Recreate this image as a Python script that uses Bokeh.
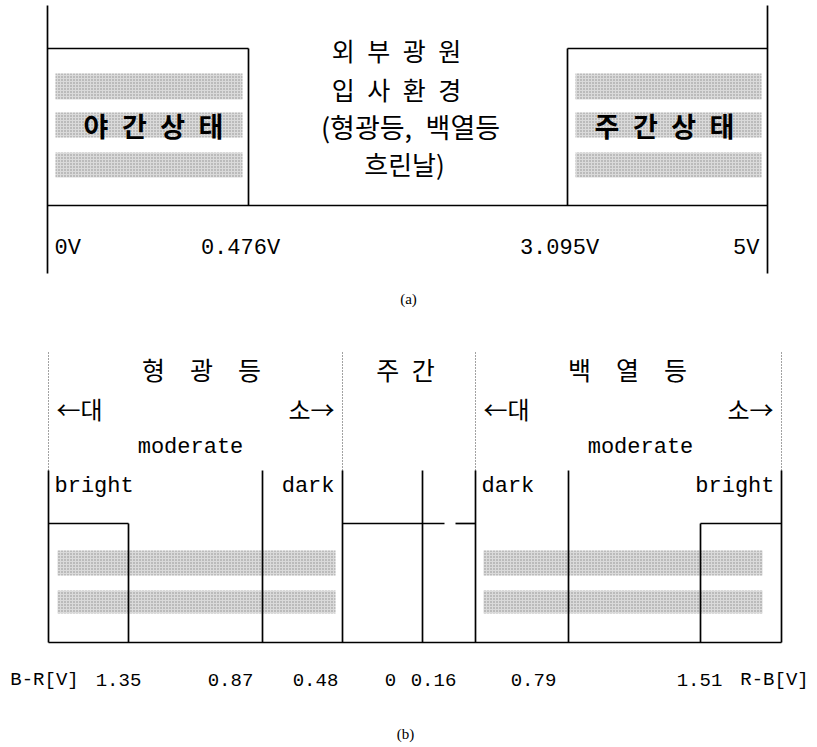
from bokeh.plotting import figure
from bokeh.models import ColumnDataSource
from bokeh.core.properties import value
from bokeh.embed import file_html
from bokeh.resources import INLINE

# ---------------- data : panel (a) ----------------
a_volts = [0.0, 0.476, 3.095, 5.0]
a_tick_labels = ["0V", "0.476V", "3.095V", "5V"]
a_state_labels = ["야\u2002간\u2002상\u2002태", "주\u2002간\u2002상\u2002태"]
a_env_lines = ["외\u2002부\u2002광\u2002원", "입\u2002사\u2002환\u2002경",
               "(형광등,\u2002백열등", "흐린날)"]
a_caption = "(a)"

# ---------------- data : panel (b) ----------------
b_values = [1.35, 0.87, 0.48, 0.0, 0.16, 0.79, 1.51]
b_tick_labels = ["1.35", "0.87", "0.48", "0", "0.16", "0.79", "1.51"]
b_axis_names = ["B-R[V]", "R-B[V]"]
b_groups = ["형\u3000광\u3000등", "주\u2002간", "백\u3000열\u3000등"]
b_levels_left = ["bright", "moderate", "dark"]
b_levels_right = ["dark", "moderate", "bright"]
b_direction = ["←대", "소→"]
b_caption = "(b)"

# ---------------- layout (screen-pixel units of the schematic) ----------------
W, H = 816, 746
KR = value("Noto Sans CJK KR")
MONO = value("Liberation Mono")
SERIF = value("Liberation Serif")
LW = 1.7
STRIPE_STYLE = dict(fill_color="#dadada", hatch_pattern="dot", hatch_color="#8c8c8c",
                    hatch_scale=3, hatch_weight=1, line_color=None)

# panel (a)
A_X = [47, 248, 567, 767]           # schematic position of each threshold in a_volts
A_TOP, A_BOX, A_BASE, A_BOT = 5, 48, 205, 273
A_STRIPES = [(73, 99), (112, 137), (152, 177)]
A_LABEL_Y = 248
A_LABEL_X = [54, 240, 559, 759]
A_LABEL_ALIGN = ["left", "center", "center", "right"]
A_ENV_X = [396, 396, 410, 404]
A_ENV_Y = [49, 88, 126, 163]
A_ENV_SIZE = ["25px", "25px", "27px", "26px"]
A_STATE_X = [153, 664]
A_STATE_Y = 125
A_CAP = (408, 298)

# panel (b)
B_X = [48, 128, 262, 342, 422, 475, 568, 700, 781]
B_DOT_TOP, B_SOLID_TOP, B_BOX, B_BASE = 352, 470, 523, 642
B_STRIPES = [(550, 575), (590, 613)]
B_STRIPE_X = [(57, 335), (483, 762)]
B_HEAD_Y = 368
B_HEAD_X = [201, 405, 627]
B_DIR_Y = 408
B_MOD_Y = 447
B_LEV_Y = 486
B_LABEL_Y = 679
B_LABEL_X = [118, 230, 315, 390, 433, 533, 699]
B_NAME_X = [44, 774]
B_CAP = (405, 733)

p = figure(width=W, height=H, x_range=(0, W), y_range=(H, 0),
           x_axis_location=None, y_axis_location=None, toolbar_location=None,
           output_backend="svg", min_border=0)
p.grid.visible = False
p.outline_line_color = None
p.background_fill_color = "white"

# ---------- panel (a) ----------
p.segment(x0=[A_X[0], A_X[3]], y0=[A_TOP, A_TOP], x1=[A_X[0], A_X[3]], y1=[A_BOT, A_BOT],
          line_color="black", line_width=LW)
p.segment(x0=[A_X[0]], y0=[A_BASE], x1=[A_X[3]], y1=[A_BASE], line_color="black", line_width=LW)
# state boxes (night: 0..0.476 V, day: 3.095..5 V)
box_l = [A_X[0], A_X[2]]
box_r = [A_X[1], A_X[3]]
stripe_src = dict(left=[], right=[], top=[], bottom=[])
for l, r in zip(box_l, box_r):
    for (t, b) in A_STRIPES:
        stripe_src["left"].append(l + 8)
        stripe_src["right"].append(r - 6)
        stripe_src["top"].append(t)
        stripe_src["bottom"].append(b)
p.quad(source=ColumnDataSource(stripe_src), left="left", right="right", top="top", bottom="bottom",
       **STRIPE_STYLE)
p.segment(x0=box_l, y0=[A_BOX] * 2, x1=box_r, y1=[A_BOX] * 2, line_color="black", line_width=LW)
p.segment(x0=[A_X[1], A_X[2]], y0=[A_BOX] * 2, x1=[A_X[1], A_X[2]], y1=[A_BASE] * 2,
          line_color="black", line_width=LW)

p.text(x=A_STATE_X, y=[A_STATE_Y] * 2, text=a_state_labels, text_font=KR, text_font_size="27px",
       text_font_style="bold", text_align="center", text_baseline="middle", text_color="black")
for x, y, t, s in zip(A_ENV_X, A_ENV_Y, a_env_lines, A_ENV_SIZE):
    p.text(x=[x], y=[y], text=[t], text_font=KR, text_font_size=s,
           text_align="center", text_baseline="middle", text_color="black")
for x, t, al in zip(A_LABEL_X, a_tick_labels, A_LABEL_ALIGN):
    p.text(x=[x], y=[A_LABEL_Y], text=[t], text_font=MONO, text_font_size="22px",
           text_align=al, text_baseline="middle", text_color="black")
p.text(x=[A_CAP[0]], y=[A_CAP[1]], text=[a_caption], text_font=SERIF, text_font_size="15px",
       text_align="center", text_baseline="middle", text_color="black")

# ---------- panel (b) ----------
dot_x = [B_X[0], B_X[3], B_X[5], B_X[8]]
p.segment(x0=dot_x, y0=[B_DOT_TOP] * 4, x1=dot_x, y1=[B_SOLID_TOP] * 4,
          line_color="#444444", line_width=1, line_dash="1 2")
p.quad(left=[a for a, b in B_STRIPE_X for _ in B_STRIPES],
       right=[b for a, b in B_STRIPE_X for _ in B_STRIPES],
       top=[t for _ in B_STRIPE_X for t, b in B_STRIPES],
       bottom=[b for _ in B_STRIPE_X for t, b in B_STRIPES],
       **STRIPE_STYLE)
tops = [B_SOLID_TOP, B_BOX, B_SOLID_TOP, B_SOLID_TOP, B_SOLID_TOP, B_SOLID_TOP, B_SOLID_TOP, B_BOX, B_SOLID_TOP]
p.segment(x0=B_X, y0=tops, x1=B_X, y1=[B_BASE] * len(B_X), line_color="black", line_width=LW)
p.segment(x0=[B_X[0]], y0=[B_BASE], x1=[B_X[8]], y1=[B_BASE], line_color="black", line_width=LW)
p.segment(x0=[B_X[0], B_X[3], 455, B_X[7]], y0=[B_BOX] * 4,
          x1=[B_X[1], 444, B_X[5], B_X[8]], y1=[B_BOX] * 4, line_color="black", line_width=LW)

p.text(x=B_HEAD_X, y=[B_HEAD_Y] * 3, text=b_groups, text_font=KR, text_font_size="25px",
       text_align="center", text_baseline="middle", text_color="black")
p.text(x=[B_X[0] + 8, B_X[5] + 8], y=[B_DIR_Y] * 2, text=[b_direction[0]] * 2, text_font=KR,
       text_font_size="24px", text_align="left", text_baseline="middle", text_color="black")
p.text(x=[B_X[3] - 8, B_X[8] - 8], y=[B_DIR_Y] * 2, text=[b_direction[1]] * 2, text_font=KR,
       text_font_size="24px", text_align="right", text_baseline="middle", text_color="black")
p.text(x=[190, 640], y=[B_MOD_Y] * 2, text=[b_levels_left[1], b_levels_right[1]], text_font=MONO,
       text_font_size="22px", text_align="center", text_baseline="middle", text_color="black")
p.text(x=[B_X[0] + 6, B_X[5] + 6], y=[B_LEV_Y] * 2, text=[b_levels_left[0], b_levels_right[0]],
       text_font=MONO, text_font_size="22px", text_align="left", text_baseline="middle", text_color="black")
p.text(x=[B_X[3] - 8, B_X[8] - 7], y=[B_LEV_Y] * 2, text=[b_levels_left[2], b_levels_right[2]],
       text_font=MONO, text_font_size="22px", text_align="right", text_baseline="middle", text_color="black")

p.text(x=B_LABEL_X, y=[B_LABEL_Y] * len(B_LABEL_X), text=b_tick_labels, text_font=MONO,
       text_font_size="19px", text_align="center", text_baseline="middle", text_color="black")
p.text(x=B_NAME_X, y=[B_LABEL_Y] * 2, text=b_axis_names, text_font=MONO,
       text_font_size="19px", text_align="center", text_baseline="middle", text_color="black")
p.text(x=[B_CAP[0]], y=[B_CAP[1]], text=[b_caption], text_font=SERIF, text_font_size="15px",
       text_align="center", text_baseline="middle", text_color="black")

open("out.html", "w").write(file_html(p, INLINE))
